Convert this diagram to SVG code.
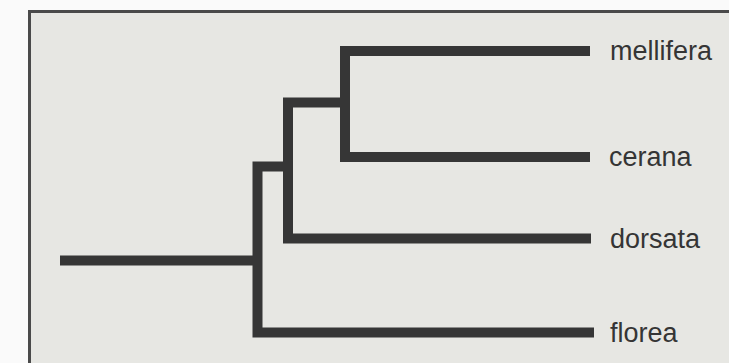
<svg xmlns="http://www.w3.org/2000/svg" width="729" height="363" viewBox="0 0 729 363">
  <style>
    .branch { fill: none; stroke: #363636; stroke-width: 10; stroke-linejoin: miter; stroke-linecap: butt; }
    .label { font-family: "Liberation Sans", Arial, sans-serif; font-size: 27px; fill: #353535; }
  </style>
  <rect x="0" y="0" width="729" height="363" fill="#fafafa"/>
  <rect x="29.5" y="11.5" width="710" height="370" fill="#e7e7e3" stroke="#4a4a4a" stroke-width="3"/>
  <g id="connectors">
    <path class="branch" d="M60,260.5 H258"/>
    <path class="branch" d="M288,166.5 H257.5 V332.5 H594"/>
    <path class="branch" d="M345,102.5 H288 V238.5 H591"/>
    <path class="branch" d="M590,51 H345 V157 H590"/>
  </g>
  <g id="mellifera"><text class="label" x="610" y="60">mellifera</text></g>
  <g id="cerana"><text class="label" x="609" y="166">cerana</text></g>
  <g id="dorsata"><text class="label" x="610" y="248">dorsata</text></g>
  <g id="florea"><text class="label" x="610" y="342">florea</text></g>
</svg>
